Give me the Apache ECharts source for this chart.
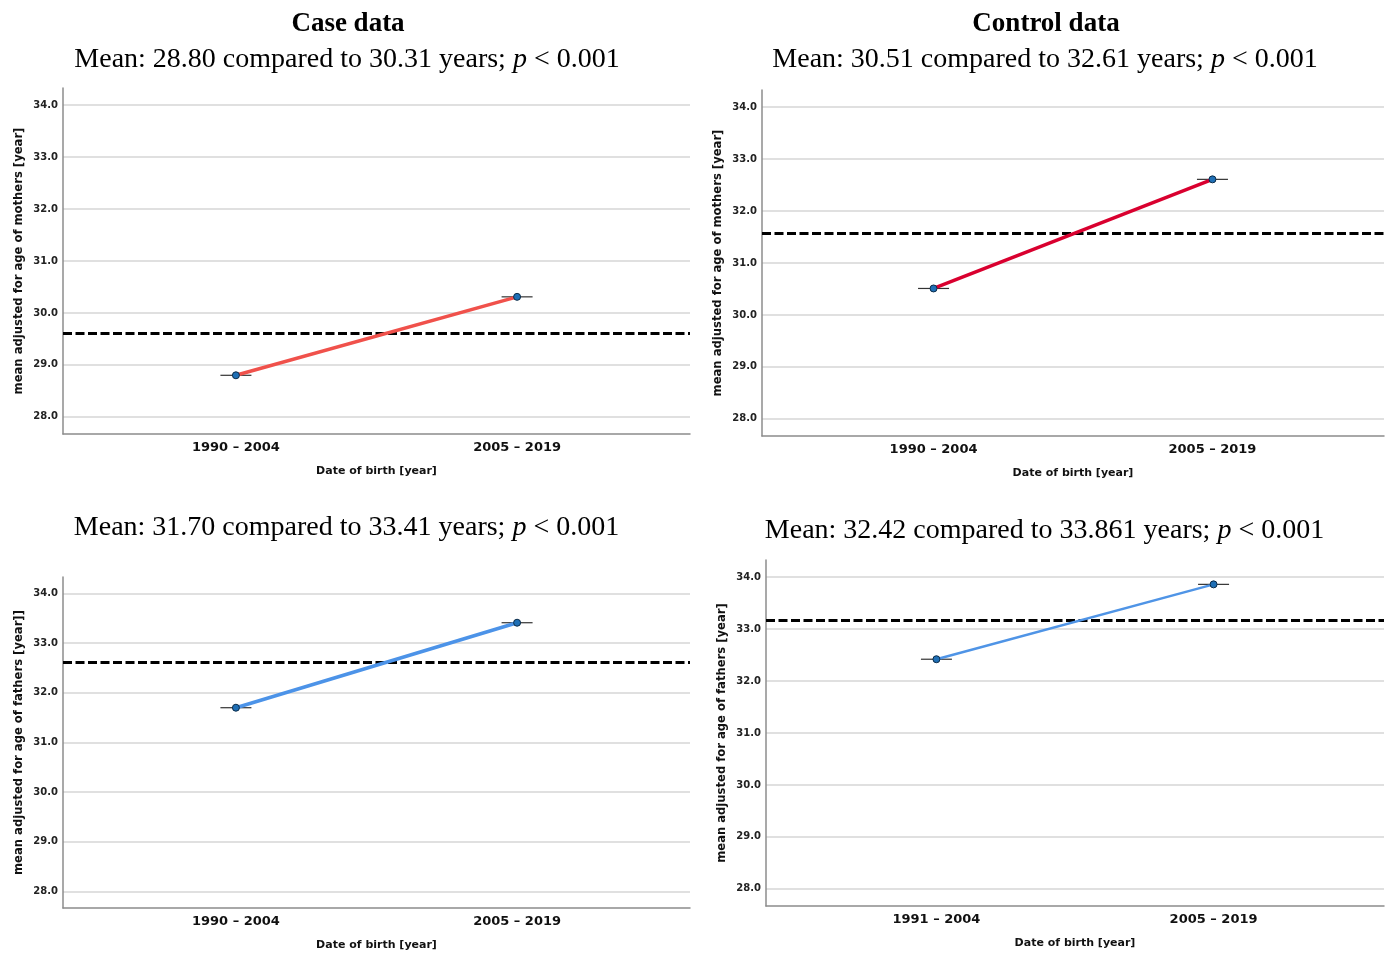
<!DOCTYPE html>
<html>
<head>
<meta charset="utf-8">
<script src="https://cdn.jsdelivr.net/npm/echarts@6/dist/echarts.min.js"></script>
<style>
html,body{margin:0;padding:0;background:#fff;}
#chart{width:1392px;height:956px;}
</style>
</head>
<body>
<div id="chart"></div>
<script>
// ---- data ----
const categoriesA = ['1990 – 2004', '2005 – 2019'];
const categoriesB = ['1991 – 2004', '2005 – 2019'];
const caseMothers = [28.80, 30.31];
const controlMothers = [30.51, 32.61];
const caseFathers = [31.70, 33.41];
const controlFathers = [32.42, 33.861];
const overallMeans = [29.60, 31.57, 32.61, 33.17];
const yTicks = [28, 29, 30, 31, 32, 33, 34];
const panelTitles = ['Case data', 'Control data'];
const subTitles = [
  ['Mean: 28.80 compared to 30.31 years; ', 'p', ' < 0.001'],
  ['Mean: 30.51 compared to 32.61 years; ', 'p', ' < 0.001'],
  ['Mean: 31.70 compared to 33.41 years; ', 'p', ' < 0.001'],
  ['Mean: 32.42 compared to 33.861 years; ', 'p', ' < 0.001']
];
const yNames = [
  'mean adjusted for age of mothers [year]',
  'mean adjusted for age of mothers [year]',
  'mean adjusted for age of fathers [year]]',
  'mean adjusted for age of fathers [year]'
];
const xName = 'Date of birth [year]';

// ---- layout / style ----
const panels = [
  {values: caseMothers, cats: categoriesA, grid: {left: 63, top: 88, width: 627, height: 346}, color: '#F0514B', lw: 3.5, dashW: 3.2},
  {values: controlMothers, cats: categoriesA, grid: {left: 762, top: 90, width: 622, height: 346}, color: '#D9002F', lw: 3.5, dashW: 3.2},
  {values: caseFathers, cats: categoriesA, grid: {left: 63, top: 577, width: 627, height: 331}, color: '#4C93E8', lw: 3.5, dashW: 3.2},
  {values: controlFathers, cats: categoriesB, grid: {left: 766, top: 560, width: 618, height: 346}, color: '#4F94E6', lw: 2.5, dashW: 2.8}
];
const titlePos = [[348, 24], [1046, 24]];
const subPos = [[347, 60], [1045, 60], [346.5, 528], [1044.5, 531]];

const serif = '"Liberation Serif", "Times New Roman", serif';
const sans = '"DejaVu Sans", sans-serif';

const grids = [], xAxes = [], yAxes = [], series = [], graphics = [];

panels.forEach((p, i) => {
  grids.push(Object.assign({containLabel: false}, p.grid));
  xAxes.push({
    type: 'value', gridIndex: i, min: -0.615, max: 1.615,
    name: xName, nameLocation: 'middle', nameGap: 32,
    nameTextStyle: {fontFamily: sans, fontWeight: 'bold', fontSize: 11, color: '#111'},
    axisLine: {show: true, onZero: false, lineStyle: {color: '#8c8c8c', width: 1.5}},
    axisTick: {show: false},
    splitLine: {show: false},
    axisLabel: {
      customValues: [0, 1], margin: 7,
      fontFamily: sans, fontWeight: 'bold', fontSize: 13, color: '#111',
      formatter: (v) => p.cats[Math.round(v)]
    }
  });
  yAxes.push({
    type: 'value', gridIndex: i, min: 27.67, max: 34.33,
    name: yNames[i], nameLocation: 'middle', nameGap: 38,
    nameTextStyle: {fontFamily: sans, fontWeight: 'bold', fontSize: 11.6, color: '#111'},
    axisLine: {show: true, onZero: false, lineStyle: {color: '#8c8c8c', width: 1.5}},
    axisTick: {show: false, customValues: yTicks},
    splitLine: {show: true, lineStyle: {color: '#d6d6d6', width: 1.5}},
    axisLabel: {
      customValues: yTicks, margin: 5,
      fontFamily: sans, fontWeight: 'bold', fontSize: 10, color: '#222',
      formatter: (v) => v.toFixed(1)
    }
  });
  const pts = p.values.map((v, k) => [k, v]);
  series.push({
    type: 'custom', xAxisIndex: i, yAxisIndex: i, z: 3,
    data: pts,
    renderItem: (params, api) => {
      const c = api.coord([api.value(0), api.value(1)]);
      return {type: 'line', shape: {x1: c[0] - 15.5, y1: c[1], x2: c[0] + 15.5, y2: c[1]},
        style: {stroke: '#333', lineWidth: 1.2}};
    }
  });
  series.push({
    type: 'line', xAxisIndex: i, yAxisIndex: i, z: 4,
    data: pts,
    lineStyle: {color: p.color, width: p.lw},
    symbol: 'circle', symbolSize: 7,
    itemStyle: {color: '#1F6FB5', borderColor: '#0b2b48', borderWidth: 1},
    emphasis: {disabled: true},
    markLine: {
      silent: true, symbol: 'none', label: {show: false}, z: 2,
      lineStyle: {color: '#000', width: p.dashW, type: [9, 3.5]},
      data: [{yAxis: overallMeans[i]}]
    },
    animation: false
  });
  graphics.push({
    type: 'text', x: subPos[i][0], y: subPos[i][1],
    style: {
      text: '{a|' + subTitles[i][0] + '}{i|' + subTitles[i][1] + '}{a|' + subTitles[i][2] + '}',
      align: 'center', verticalAlign: 'middle', fill: '#000',
      rich: {
        a: {fontFamily: serif, fontSize: 28, fill: '#000'},
        i: {fontFamily: serif, fontSize: 28, fontStyle: 'italic', fill: '#000'}
      }
    }
  });
});
panelTitles.forEach((t, i) => {
  graphics.push({
    type: 'text', x: titlePos[i][0], y: titlePos[i][1],
    style: {text: t, font: 'bold 27px ' + serif, fill: '#000', align: 'center', verticalAlign: 'middle'}
  });
});

const chart = echarts.init(document.getElementById('chart'), null, {renderer: 'canvas'});
chart.setOption({
  animation: false,
  backgroundColor: '#fff',
  grid: grids, xAxis: xAxes, yAxis: yAxes, series: series, graphic: graphics
});
</script>
</body>
</html>
